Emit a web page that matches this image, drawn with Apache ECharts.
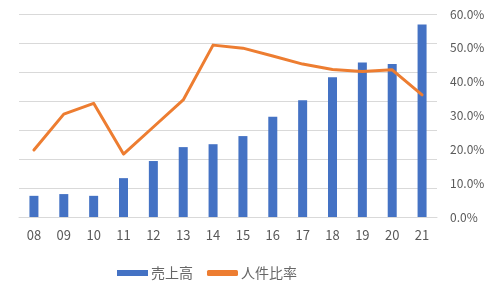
<!DOCTYPE html>
<html><head><meta charset="utf-8">
<script src="https://cdn.jsdelivr.net/npm/echarts@6/dist/echarts.min.js"></script>
<style>html,body{margin:0;padding:0;background:#fff}#c{width:500px;height:293px}</style>
</head><body><div id="c"></div>
<script>
const categories = ['08','09','10','11','12','13','14','15','16','17','18','19','20','21'];
const sales = [7.3, 7.9, 7.3, 13.4, 19.3, 24.1, 25.1, 27.9, 34.6, 40.3, 48.2, 53.3, 52.8, 66.4];
const laborRatio = [19.8, 30.4, 33.6, 18.6, 26.6, 34.6, 50.8, 49.9, 47.6, 45.2, 43.6, 43.0, 43.5, 36.1];
const seriesNames = ['売上高', '人件比率'];

const chart = echarts.init(document.getElementById('c'), null, {renderer: 'canvas'});
const font = '"Noto Sans CJK JP", "Noto Sans", sans-serif';
chart.setOption({
  animation: false,
  textStyle: {fontFamily: font},
  grid: {left: 19, right: 63, top: 14, bottom: 76},
  legend: {
    top: 259, left: 112, itemWidth: 31, itemHeight: 6, itemGap: 14,
    textStyle: {color: '#666666', fontSize: 14, lineHeight: 18, padding: [0, 0, 0, -2], fontFamily: font},
    data: [
      {name: seriesNames[0], icon: 'rect'},
      {name: seriesNames[1], icon: 'roundRect'}
    ]
  },
  xAxis: {
    type: 'category', data: categories,
    axisLine: {lineStyle: {color: '#d9d9d9'}},
    axisTick: {show: false},
    axisLabel: {color: '#595959', fontSize: 13, margin: 12, fontFamily: font}
  },
  yAxis: [
    {type: 'value', min: 0, max: 70, interval: 10,
     axisLabel: {show: false}, axisLine: {show: false}, axisTick: {show: false},
     splitLine: {lineStyle: {color: '#d9d9d9', width: 1}}},
    {type: 'value', min: 0, max: 60, interval: 10, position: 'right',
     axisLabel: {color: '#595959', fontSize: 12, margin: 13, fontFamily: font,
       formatter: v => v.toFixed(1) + '%'},
     axisLine: {show: false}, axisTick: {show: false}, splitLine: {show: false}}
  ],
  series: [
    {name: seriesNames[0], type: 'bar', data: sales, yAxisIndex: 0, barWidth: 9,
     itemStyle: {color: '#4472C4'}},
    {name: seriesNames[1], type: 'line', data: laborRatio, yAxisIndex: 1,
     symbol: 'none', lineStyle: {color: '#ED7D31', width: 3, cap: 'round', join: 'round'},
     itemStyle: {color: '#ED7D31'}}
  ]
});
</script></body></html>
